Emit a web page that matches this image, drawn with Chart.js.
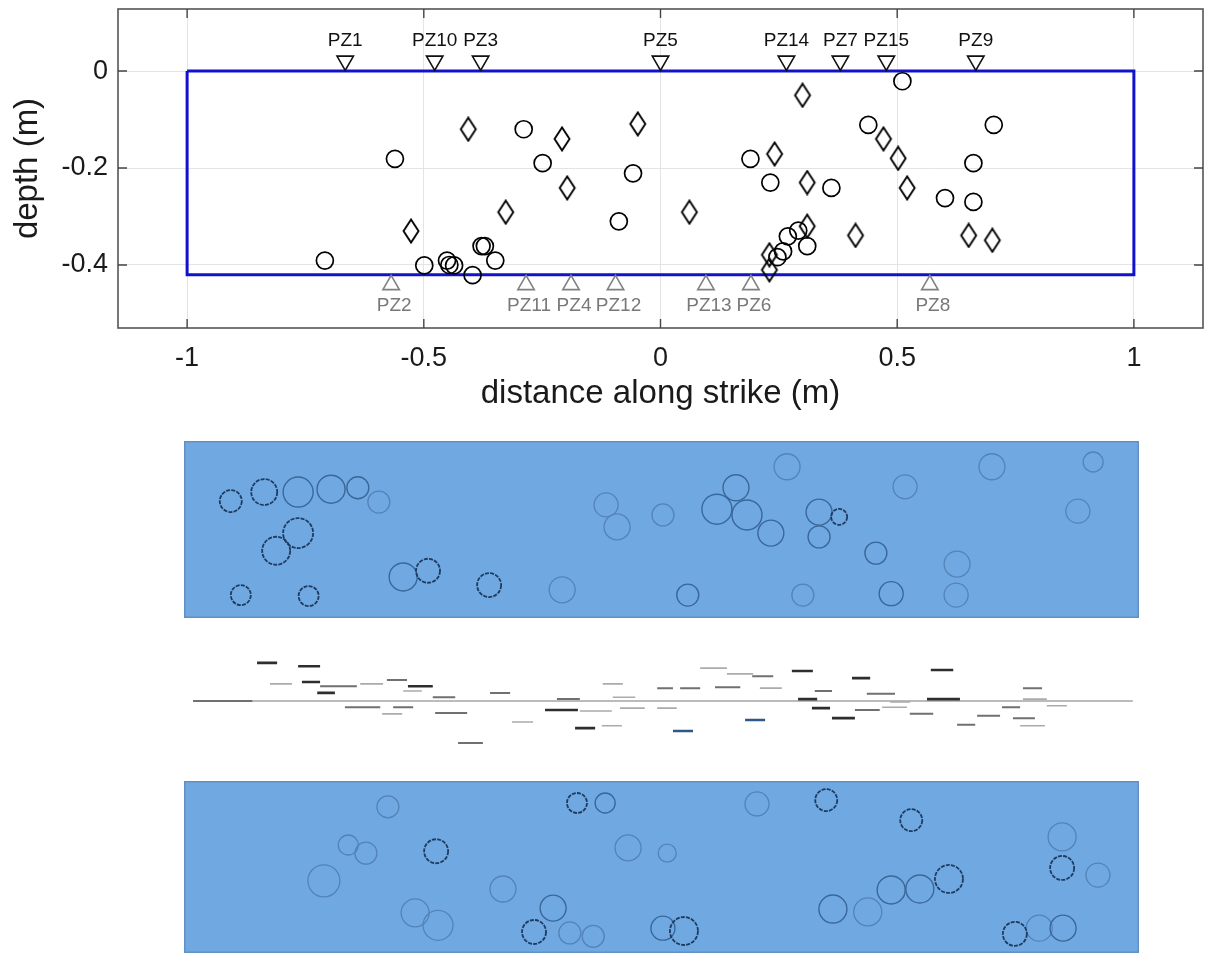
<!DOCTYPE html>
<html><head><meta charset="utf-8">
<script src="https://cdn.jsdelivr.net/npm/chart.js@4.4.1/dist/chart.umd.min.js"></script>
<style>
html,body{margin:0;padding:0;background:#fff;width:1209px;height:953px;overflow:hidden;}
canvas{position:absolute;display:block;}
#c0{left:0;top:0;width:1209px;height:430px;}
#cA{left:184px;top:441px;width:955px;height:177px;}
#cB{left:184px;top:651px;width:955px;height:100px;}
#cC{left:184px;top:781px;width:955px;height:172px;}
</style></head><body>
<canvas id="c0" width="1209" height="430"></canvas>
<canvas id="cA" width="955" height="177"></canvas>
<canvas id="cB" width="955" height="100"></canvas>
<canvas id="cC" width="955" height="172"></canvas>
<script>
// ---------- top panel data ----------
const xTicks = [-1, -0.5, 0, 0.5, 1];
const xTickLabels = ['-1', '-0.5', '0', '0.5', '1'];
const yTicks = [0, -0.2, -0.4];
const yTickLabels = ['0', '-0.2', '-0.4'];

const circleX = [-0.709,-0.561,-0.499,-0.451,-0.446,-0.436,-0.397,-0.378,-0.371,-0.349,-0.289,-0.249,-0.088,-0.058,0.190,0.232,0.361,0.439,0.511,0.601,0.661,0.661,0.704,0.291,0.269,0.310,0.259,0.247];
const circleY = [-0.391,-0.181,-0.401,-0.391,-0.400,-0.401,-0.421,-0.361,-0.361,-0.391,-0.120,-0.190,-0.310,-0.211,-0.181,-0.230,-0.241,-0.111,-0.021,-0.262,-0.190,-0.270,-0.111,-0.329,-0.341,-0.361,-0.372,-0.384];

const diamondX = [-0.527,-0.406,-0.327,-0.208,-0.197,-0.048,0.061,0.241,0.300,0.310,0.310,0.412,0.471,0.502,0.521,0.651,0.701,0.230,0.230];
const diamondY = [-0.330,-0.120,-0.291,-0.140,-0.241,-0.109,-0.291,-0.171,-0.050,-0.230,-0.320,-0.339,-0.140,-0.180,-0.241,-0.339,-0.349,-0.379,-0.410];

const pzTopNames = ['PZ1','PZ10','PZ3','PZ5','PZ14','PZ7','PZ15','PZ9'];
const pzTopX = [-0.666,-0.477,-0.380,0.0,0.266,0.380,0.477,0.666];
const pzTopDepth = 0.021;
const pzBotNames = ['PZ2','PZ11','PZ4','PZ12','PZ13','PZ6','PZ8'];
const pzBotX = [-0.569,-0.284,-0.189,-0.095,0.096,0.191,0.569];
const pzBotDepth = -0.441;

const rectX = [-1, 1, 1, -1, -1];
const rectY = [0, 0, -0.42, -0.42, 0];

// ---------- panel A (upper blue map) ----------
const panelAX = [-0.902,-0.832,-0.761,-0.692,-0.636,-0.592,-0.761,-0.807,-0.881,-0.739,-0.541,-0.489,-0.361,-0.208,-0.116,-0.093,0.003,0.263,0.156,0.116,0.179,0.229,0.330,0.372,0.330,0.510,0.449,0.619,0.617,0.481,0.296,0.055,0.692,0.904,0.872];
const panelAY = [-0.126,-0.107,-0.107,-0.101,-0.098,-0.128,-0.193,-0.230,-0.323,-0.325,-0.285,-0.272,-0.302,-0.312,-0.134,-0.180,-0.155,-0.054,-0.098,-0.143,-0.155,-0.193,-0.149,-0.159,-0.201,-0.096,-0.235,-0.258,-0.323,-0.320,-0.323,-0.323,-0.054,-0.044,-0.147];
const panelAR = [11,13,15,14,11,11,15,14,10,10,14,12,12,13,12,13,11,13,13,15,15,13,13,8,11,12,11,13,12,12,11,11,13,10,12];
const panelAShade = [0,0,1,1,1,2,0,0,0,0,1,0,0,2,2,2,2,2,1,1,1,1,1,0,1,2,1,2,2,1,2,1,2,2,2];

// ---------- panel B (profile strip) ----------
const dashX1 = [-0.847,-0.761,-0.820,-0.753,-0.715,-0.631,-0.721,-0.575,-0.541,-0.531,-0.479,-0.359,-0.219,-0.123,-0.102,-0.009,-0.663,-0.585,-0.562,-0.474,-0.244,-0.171,-0.087,-0.009,-0.313,-0.181,-0.125,-0.426,0.024,0.081,0.137,0.190,0.273,0.399,0.564,0.039,0.112,0.206,0.321,0.430,0.757,0.286,0.479,0.556,0.757,0.315,0.405,0.462,0.520,0.713,0.807,0.175,0.357,0.661,0.736,0.619,0.751,-0.981];
const dashX2 = [-0.805,-0.715,-0.774,-0.715,-0.638,-0.583,-0.684,-0.533,-0.502,-0.479,-0.432,-0.317,-0.171,-0.081,-0.055,0.024,-0.589,-0.543,-0.520,-0.407,-0.175,-0.104,-0.035,0.032,-0.269,-0.139,-0.083,-0.374,0.066,0.137,0.192,0.234,0.317,0.437,0.611,0.081,0.165,0.252,0.357,0.489,0.797,0.326,0.521,0.625,0.807,0.353,0.457,0.514,0.569,0.751,0.849,0.217,0.405,0.709,0.782,0.657,0.803,-0.857];
const dashY = [0.080,0.073,0.036,0.040,0.031,0.036,0.017,0.044,0.021,0.031,0.008,0.017,0.004,0.036,0.008,0.027,-0.013,-0.027,-0.013,-0.025,-0.019,-0.021,-0.015,-0.015,-0.044,-0.057,-0.052,-0.088,-0.063,0.069,0.057,0.052,0.063,0.048,0.065,0.027,0.029,0.027,0.021,0.015,0.027,0.004,-0.002,0.004,0.004,-0.015,-0.019,-0.013,-0.027,-0.013,-0.010,-0.040,-0.036,-0.031,-0.036,-0.050,-0.052,0];
const dashShade = [0,0,2,0,1,2,0,1,2,0,1,1,1,2,2,1,1,2,1,1,0,2,2,2,2,0,2,1,3,2,2,1,0,0,0,1,1,2,1,1,1,0,2,0,2,0,1,2,1,1,2,3,0,1,1,1,2,1];
const baseX = [-0.981, 0.987];
const baseY = [0, 0];

// ---------- panel C (lower blue map) ----------
const panelCX = [-0.573,-0.656,-0.619,-0.472,-0.707,-0.332,-0.516,-0.468,-0.227,-0.267,-0.192,-0.143,-0.177,-0.118,-0.070,0.012,0.003,0.047,0.200,0.345,0.523,0.839,0.839,0.914,0.602,0.541,0.481,0.432,0.359,0.740,0.791,0.841];
const panelCY = [-0.054,-0.134,-0.151,-0.147,-0.209,-0.226,-0.276,-0.302,-0.266,-0.316,-0.318,-0.325,-0.046,-0.046,-0.140,-0.151,-0.308,-0.314,-0.048,-0.040,-0.082,-0.117,-0.182,-0.197,-0.205,-0.226,-0.228,-0.274,-0.268,-0.320,-0.308,-0.308];
const panelCR = [11,10,11,12,16,13,14,15,13,12,11,11,10,10,13,9,12,14,12,11,11,14,12,12,14,14,14,14,14,12,13,13];
const panelCShade = [2,2,2,0,2,2,2,2,1,0,2,2,0,1,2,2,1,0,2,0,0,2,0,2,0,1,1,2,1,0,2,1];

// ---------- styles ----------
const FONT = "'Liberation Sans', Arial, Helvetica, sans-serif";
const diamondImg = (() => {
  const c = document.createElement('canvas'); c.width = 20; c.height = 26;
  const g = c.getContext('2d'); g.strokeStyle = '#000'; g.lineWidth = 1.9;
  g.beginPath(); g.moveTo(10, 1.5); g.lineTo(17.5, 13); g.lineTo(10, 24.5); g.lineTo(2.5, 13); g.closePath(); g.stroke();
  return c;
})();
const zip = (xs, ys) => xs.map((x, i) => ({x: x, y: ys[i]}));
const noPad = s => { s.paddingTop = 0; s.paddingBottom = 0; s.paddingLeft = 0; s.paddingRight = 0; };

const framePlugin = {
  id: 'frame',
  afterDraw(chart) {
    const {ctx, chartArea: a, scales: {x, y}} = chart;
    ctx.save();
    ctx.strokeStyle = '#555'; ctx.lineWidth = 1.6;
    ctx.strokeRect(a.left, a.top, a.right - a.left, a.bottom - a.top);
    ctx.strokeStyle = '#444'; ctx.lineWidth = 1.4;
    ctx.beginPath();
    xTicks.forEach(v => { const p = x.getPixelForValue(v); ctx.moveTo(p, a.top); ctx.lineTo(p, a.top + 9); ctx.moveTo(p, a.bottom); ctx.lineTo(p, a.bottom - 9); });
    yTicks.forEach(v => { const p = y.getPixelForValue(v); ctx.moveTo(a.left, p); ctx.lineTo(a.left + 9, p); ctx.moveTo(a.right, p); ctx.lineTo(a.right - 9, p); });
    ctx.stroke();
    ctx.restore();
  }
};
const labelPlugin = {
  id: 'pzlabels',
  afterDatasetsDraw(chart) {
    const ctx = chart.ctx;
    chart.data.datasets.forEach((ds, i) => {
      if (!ds.pzNames) return;
      const meta = chart.getDatasetMeta(i);
      ctx.save();
      ctx.font = '19px ' + FONT; ctx.fillStyle = ds.pzColor; ctx.textAlign = 'center'; ctx.textBaseline = 'middle';
      meta.data.forEach((el, j) => ctx.fillText(ds.pzNames[j], el.x + ds.pzDx, el.y + ds.pzDy));
      ctx.restore();
    });
  }
};

new Chart(document.getElementById('c0'), {
  type: 'scatter',
  data: {
    datasets: [
      {data: zip(pzTopX, pzTopX.map(() => pzTopDepth)), pointStyle: 'triangle', rotation: 180, pointRadius: 9.5, borderColor: '#111', backgroundColor: '#fff', borderWidth: 1.6,
       pzNames: pzTopNames, pzColor: '#111', pzDx: 0, pzDy: -20},
      {data: zip(pzBotX, pzBotX.map(() => pzBotDepth)), pointStyle: 'triangle', pointRadius: 9.5, borderColor: '#808080', backgroundColor: '#fff', borderWidth: 1.6,
       pzNames: pzBotNames, pzColor: '#787878', pzDx: 3, pzDy: 21},
      {data: zip(circleX, circleY), pointStyle: 'circle', pointRadius: 8.5, borderColor: '#000', backgroundColor: 'rgba(0,0,0,0)', borderWidth: 1.7},
      {data: zip(diamondX, diamondY), pointStyle: diamondImg},
      {data: zip(rectX, rectY), showLine: true, borderColor: '#1212cc', borderWidth: 3, pointRadius: 0, fill: false}
    ]
  },
  options: {
    responsive: false, animation: false,
    layout: {autoPadding: false, padding: {left: 0, right: 6, top: 9, bottom: 0}},
    plugins: {legend: {display: false}, tooltip: {enabled: false}},
    scales: {
      x: {
        type: 'linear', min: -1.146, max: 1.146,
        afterBuildTicks: s => { s.ticks = xTicks.map(v => ({value: v})); },
        afterFit: s => { s.height = 102; noPad(s); },
        ticks: {callback: (v, i) => xTickLabels[i], font: {family: FONT, size: 27}, color: '#1a1a1a', padding: 14, maxRotation: 0, autoSkip: false},
        grid: {color: '#e4e4e4', drawTicks: false, lineWidth: 1},
        border: {display: false},
        title: {display: true, text: 'distance along strike (m)', font: {family: FONT, size: 33}, color: '#1a1a1a', padding: {top: 0, bottom: 16}}
      },
      y: {
        type: 'linear', min: -0.53, max: 0.128,
        afterBuildTicks: s => { s.ticks = yTicks.map(v => ({value: v})); },
        afterFit: s => { s.width = 118; noPad(s); },
        ticks: {callback: (v, i) => yTickLabels[i], font: {family: FONT, size: 27}, color: '#1a1a1a', padding: 10},
        grid: {color: '#e4e4e4', drawTicks: false, lineWidth: 1},
        border: {display: false},
        title: {display: true, text: 'depth (m)', font: {family: FONT, size: 33}, color: '#1a1a1a', padding: {top: 8, bottom: 0}}
      }
    }
  },
  plugins: [framePlugin, labelPlugin]
});

// ---------- bottom panels ----------
const panelBg = {
  id: 'panelBg',
  beforeDraw(chart, args, opts) {
    if (!opts.color) return;
    const {ctx, chartArea: a} = chart;
    ctx.save(); ctx.fillStyle = opts.color; ctx.fillRect(a.left, a.top, a.right - a.left, a.bottom - a.top);
    ctx.strokeStyle = opts.edge; ctx.lineWidth = 1.5; ctx.strokeRect(a.left + 0.75, a.top + 0.75, a.right - a.left - 1.5, a.bottom - a.top - 1.5);
    ctx.restore();
  }
};
const dashPlugin = {
  id: 'dashPts',
  beforeDatasetDraw(chart, args) { const ds = chart.data.datasets[args.index]; if (ds.ringDash) { chart.ctx.save(); chart.ctx.setLineDash(ds.ringDash); } },
  afterDatasetDraw(chart, args) { const ds = chart.data.datasets[args.index]; if (ds.ringDash) chart.ctx.restore(); }
};
const ringStyles = [
  {borderColor: '#1f3b60', borderWidth: 1.8, ringDash: [4, 1.2]},
  {borderColor: '#3a679a', borderWidth: 1.4},
  {borderColor: '#5383b8', borderWidth: 1.3}
];
function bubblePanel(id, xs, ys, rs, shades, ymin) {
  const datasets = ringStyles.map((st, k) => Object.assign({
    data: xs.map((x, i) => ({x: x, y: ys[i], r: rs[i], s: shades[i]})).filter(p => p.s === k),
    backgroundColor: 'rgba(0,0,0,0)'
  }, st));
  new Chart(document.getElementById(id), {
    type: 'bubble',
    data: {datasets: datasets},
    options: {
      responsive: false, animation: false,
      layout: {autoPadding: false, padding: 0},
      plugins: {legend: {display: false}, tooltip: {enabled: false}, panelBg: {color: '#70a9e2', edge: '#6190c2'}},
      scales: {x: {display: false, min: -1, max: 1}, y: {display: false, min: ymin, max: 0}}
    },
    plugins: [panelBg, dashPlugin]
  });
}
bubblePanel('cA', panelAX, panelAY, panelAR, panelAShade, -0.371);
bubblePanel('cC', panelCX, panelCY, panelCR, panelCShade, -0.36);

const dashStyles = [
  {borderColor: '#2e2e2e', borderWidth: 2.6},
  {borderColor: '#707070', borderWidth: 2},
  {borderColor: '#ababab', borderWidth: 1.6},
  {borderColor: '#2d5888', borderWidth: 2.6}
];
const dashSets = dashStyles.map((st, k) => {
  const pts = [];
  dashX1.forEach((x1, i) => {
    if (dashShade[i] !== k) return;
    pts.push({x: x1, y: dashY[i]}, {x: dashX2[i], y: dashY[i]}, {x: dashX2[i], y: null});
  });
  return Object.assign({data: pts, showLine: true, pointRadius: 0, spanGaps: false, fill: false}, st);
});
dashSets.push({data: zip(baseX, baseY), showLine: true, pointRadius: 0, borderColor: '#a5a5a5', borderWidth: 1.5});
new Chart(document.getElementById('cB'), {
  type: 'scatter',
  data: {datasets: dashSets},
  options: {
    responsive: false, animation: false,
    layout: {autoPadding: false, padding: 0},
    plugins: {legend: {display: false}, tooltip: {enabled: false}},
    scales: {x: {display: false, min: -1, max: 1}, y: {display: false, min: -0.105, max: 0.105}}
  }
});
</script>
</body></html>
